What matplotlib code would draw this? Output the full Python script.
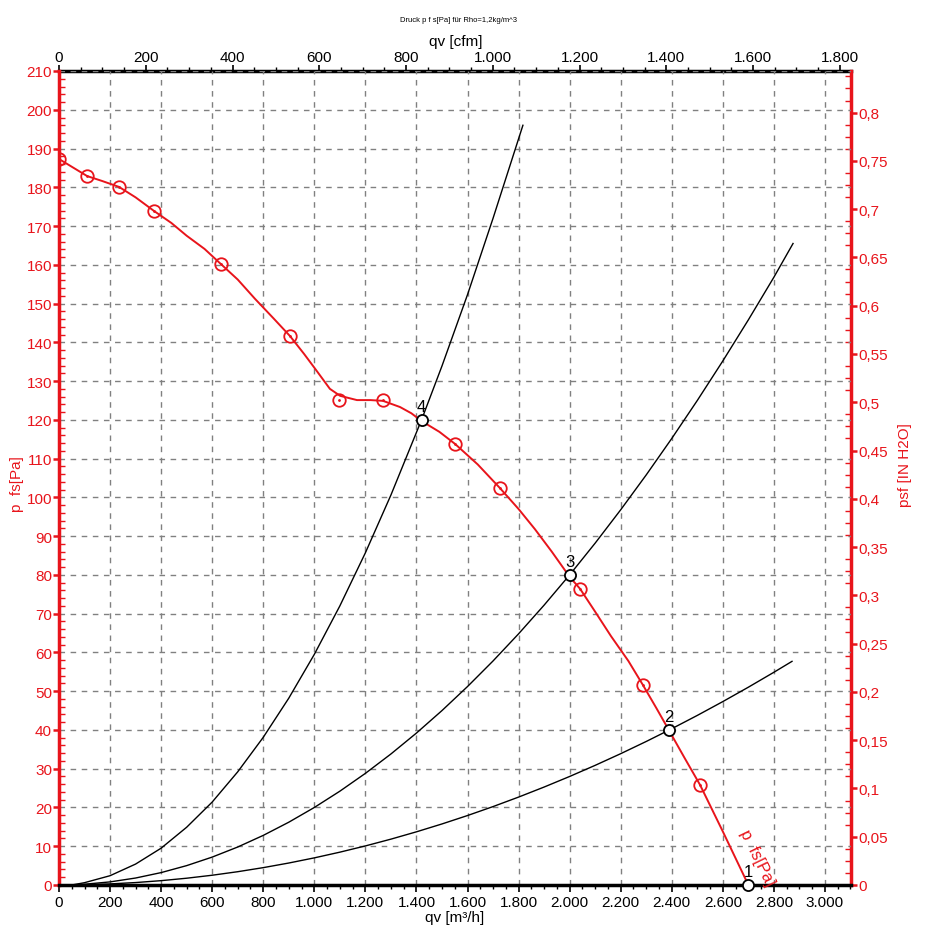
import matplotlib
matplotlib.use('Agg')
import matplotlib.pyplot as plt
from matplotlib.ticker import MultipleLocator, FixedLocator, FuncFormatter

plt.rcParams['font.family'] = ['Liberation Sans', 'DejaVu Sans']

# Fan curve measured points (qv m3/h, p fs Pa)
fan_q = [0, 110, 235, 372, 634, 905, 1097, 1269, 1551, 1727, 2041, 2287, 2511]
fan_p = [187.3, 182.9, 180.1, 173.9, 160.2, 141.6, 125.1, 125.1, 113.8, 102.4, 76.4, 51.6, 25.8]

# Fan curve line
curve_q = [0, 110, 170, 235, 300, 372, 440, 500, 570, 634, 700, 768, 840, 905, 960, 1003,
           1061, 1101, 1167, 1220, 1269, 1336, 1380, 1420, 1490, 1551, 1640, 1727, 1800,
           1864, 1930, 2000, 2041, 2100, 2162, 2230, 2287, 2340, 2390, 2450, 2511, 2600, 2700]
curve_p = [187.3, 182.9, 181.6, 180.1, 177.4, 173.9, 170.8, 167.5, 164.1, 160.2, 156.2,
           151.2, 146.2, 141.6, 137.0, 133.2, 128.0, 126.2, 125.1, 125.1, 124.9, 123.3,
           121.7, 119.7, 116.9, 113.8, 108.5, 102.4, 97.0, 91.8, 86.0, 79.5, 76.4, 70.5,
           64.2, 57.8, 51.6, 45.6, 39.8, 32.8, 25.8, 13.8, 0.0]

# System curves
sys4_q = [50, 100, 200, 300, 400, 500, 600, 700, 800, 900, 1000, 1100, 1200, 1300, 1420,
          1500, 1600, 1700, 1817]
sys4_p = [0, 0.6, 2.4, 5.4, 9.5, 14.9, 21.4, 29.2, 38.1, 48.2, 59.5, 72.0, 85.7, 100.6,
          120.0, 133.9, 152.3, 172.0, 196.0]

sys3_q = [50, 100, 200, 300, 400, 500, 600, 700, 800, 900, 1000, 1100, 1200, 1300, 1400,
          1500, 1600, 1700, 1800, 1900, 2000, 2100, 2200, 2300, 2400, 2500, 2600, 2700,
          2800, 2875]
sys3_p = [0, 0.2, 0.8, 1.8, 3.2, 5.0, 7.2, 9.8, 12.8, 16.2, 20.0, 24.2, 28.8, 33.8, 39.2,
          45.0, 51.2, 57.8, 64.8, 72.2, 80.0, 88.2, 96.8, 105.8, 115.2, 125.0, 135.2,
          145.8, 156.8, 165.5]

sys2_q = [50, 100, 200, 300, 400, 500, 600, 700, 800, 900, 1000, 1100, 1200, 1300, 1400,
          1500, 1600, 1700, 1800, 1900, 2000, 2100, 2200, 2300, 2400, 2500, 2600, 2700,
          2800, 2871]
sys2_p = [0, 0.07, 0.28, 0.63, 1.12, 1.75, 2.52, 3.43, 4.48, 5.67, 7.0, 8.47, 10.08, 11.83,
          13.72, 15.75, 17.92, 20.23, 22.68, 25.27, 28.0, 30.87, 33.88, 37.03, 40.32,
          43.75, 47.32, 51.03, 54.88, 57.7]

# Operating points
op_q = [2700, 2390, 2000, 1420]
op_p = [0, 40, 80, 120]
op_labels = ['1', '2', '3', '4']

# axis ticks
cfm_ticks = [0, 200, 400, 600, 800, 1000, 1200, 1400, 1600, 1800]
inh2o_ticks = [0, 0.05, 0.1, 0.15, 0.2, 0.25, 0.3, 0.35, 0.4, 0.45, 0.5, 0.55, 0.6,
               0.65, 0.7, 0.75, 0.8]

RED = '#e8141b'
FS = 11

fig = plt.figure(figsize=(9.25, 9.53), dpi=100)
ax = fig.add_axes([59 / 925, 67 / 953, 792 / 925, 814 / 953])

ax.set_xlim(0, 3102)
ax.set_ylim(0, 210)

ax.plot(sys4_q, sys4_p, color='black', lw=1)
ax.plot(sys3_q, sys3_p, color='black', lw=1)
ax.plot(sys2_q, sys2_p, color='black', lw=1)

ax.plot(curve_q, curve_p, color=RED, lw=1.4, zorder=3)
ax.plot(fan_q, fan_p, ls='none', marker='o', ms=9, mfc='none', mec=RED, mew=1.3, zorder=4)
ax.plot(fan_q, fan_p, ls='none', marker='.', ms=2, color=RED, zorder=4)

ax.plot(op_q, op_p, ls='none', marker='o', ms=8, mfc='white', mec='black', mew=1.3,
        zorder=5, clip_on=False)
for q, p, lab in zip(op_q, op_p, op_labels):
    ax.text(q, p + 1.5, lab, fontsize=12, ha='center', va='bottom', zorder=6)

ax.text(2734, 7.2, 'p  fs[Pa]', color=RED, fontsize=12, rotation=-64,
        ha='center', va='center', rotation_mode='anchor')

# grid
ax.xaxis.set_major_locator(MultipleLocator(200))
ax.xaxis.set_minor_locator(MultipleLocator(50))
ax.yaxis.set_major_locator(MultipleLocator(10))
ax.yaxis.set_minor_locator(MultipleLocator(2))
ax.grid(True, which='major', color='#808080', ls=(0, (4, 4)), lw=1)

thousands = FuncFormatter(lambda v, p: f"{v:,.0f}".replace(',', '.'))
ax.xaxis.set_major_formatter(thousands)
ax.yaxis.set_major_formatter(FuncFormatter(lambda v, p: f"{v:.0f}"))

ax.tick_params(axis='x', which='major', direction='out', length=5, width=1.2, labelsize=FS, pad=2)
ax.tick_params(axis='x', which='minor', direction='out', length=3, width=1)
ax.tick_params(axis='y', which='major', direction='out', length=4, width=1.8, colors=RED,
               labelsize=FS, pad=1)
ax.tick_params(axis='y', which='minor', direction='in', length=4, width=1, colors=RED)

ax.spines['bottom'].set_linewidth(2.5)
ax.spines['left'].set_linewidth(2.5)
ax.spines['left'].set_color(RED)
ax.spines['top'].set_visible(False)
ax.spines['right'].set_visible(False)

# top axis in cfm
CFM = 1.699011
top = ax.secondary_xaxis('top', functions=(lambda x: x / CFM, lambda x: x * CFM))
top.xaxis.set_major_locator(FixedLocator(cfm_ticks))
top.xaxis.set_minor_locator(FixedLocator(list(range(0, 1825, 50))))
top.xaxis.set_major_formatter(thousands)
top.tick_params(which='major', direction='out', length=4, width=1.2, labelsize=FS, pad=1)
top.tick_params(which='minor', direction='out', length=3, width=1)
top.spines['top'].set_linewidth(2.5)

# right axis in inch H2O
INH2O = 249.089
right = ax.secondary_yaxis('right', functions=(lambda y: y / INH2O, lambda y: y * INH2O))
right.yaxis.set_major_locator(FixedLocator(inh2o_ticks))
right.yaxis.set_minor_locator(FixedLocator([i * 0.0125 for i in range(68)]))
right.yaxis.set_major_formatter(FuncFormatter(lambda v, p: f"{round(v, 4):g}".replace('.', ',')))
right.tick_params(which='major', direction='out', length=4, width=1.8, colors=RED,
                  labelsize=FS, pad=1)
right.tick_params(which='minor', direction='in', length=4, width=1, colors=RED)
right.spines['right'].set_linewidth(2.5)
right.spines['right'].set_color(RED)

# labels
fig.text(458 / 925, 1 - 20 / 953, 'Druck p f s[Pa] für Rho=1,2kg/m^3', fontsize=5.5,
         ha='center', va='center')
fig.text(456 / 925, 1 - 42 / 953, 'qv [cfm]', fontsize=FS, ha='center', va='center')
fig.text(455 / 925, 1 - 918 / 953, 'qv [m³/h]', fontsize=FS, ha='center', va='center')
fig.text(17 / 925, 1 - 484 / 953, 'p  fs[Pa]', fontsize=FS, color=RED, rotation=90,
         ha='center', va='center')
fig.text(905 / 925, 1 - 465 / 953, 'psf [IN H2O]', fontsize=FS, color=RED, rotation=90,
         ha='center', va='center')

fig.savefig('out.png', dpi=100)
